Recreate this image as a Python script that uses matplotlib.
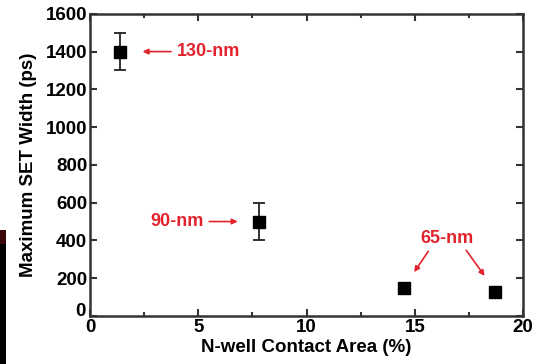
import matplotlib
matplotlib.use("Agg")
import matplotlib.pyplot as plt
from matplotlib import ticker
from matplotlib.patches import Rectangle

# data
area = [1.4, 7.8, 14.5, 18.7]
set_width = [1400, 500, 150, 125]
err = [100, 100, 0, 0]
nodes = ["130-nm", "90-nm", "65-nm", "65-nm"]

red = "#e3232c"
plt.rcParams['font.family'] = ['Liberation Sans', 'DejaVu Sans']
plt.rcParams['font.weight'] = 'bold'

fig = plt.figure(figsize=(5.42, 3.64), dpi=100)
ax = fig.add_axes([0.166, 0.132, 0.799, 0.83])

ax.errorbar(area, set_width, yerr=err, fmt='s', color='black', ms=8,
            ecolor='#222222', elinewidth=1.3, capsize=4, capthick=1.3)

ax.set_xlim(0, 20)
ax.set_ylim(0, 1600)
ax.xaxis.set_major_locator(ticker.MultipleLocator(5))
ax.xaxis.set_minor_locator(ticker.MultipleLocator(2.5))
ax.yaxis.set_major_locator(ticker.MultipleLocator(200))
# y zero label is drawn separately, a bit higher, so it clears the x zero
ax.yaxis.set_major_formatter(ticker.FuncFormatter(lambda v, p: "" if v == 0 else "%d" % v))
ax.tick_params(which='both', direction='in', top=True, right=True,
               color='#333333', labelsize=13.5, pad=2)
ax.tick_params(which='major', length=5, width=1.5)
ax.tick_params(which='minor', length=3, width=1.5)
for s in ax.spines.values():
    s.set_linewidth(1.8)
    s.set_color('#333333')
ax.annotate("0", xy=(0, 0), xycoords='axes fraction', xytext=(-3, 3.5),
            textcoords='offset points', ha='right', va='center', fontsize=13.5,
            fontweight='bold')

ax.set_xlabel("N-well Contact Area (%)", fontsize=13.5, fontweight='bold', labelpad=2)
ax.set_ylabel("Maximum SET Width (ps)", fontsize=13.5, fontweight='bold', labelpad=6)

akw = dict(arrowstyle='-|>', color=red, lw=1.2, mutation_scale=8)
ax.annotate(nodes[0], xy=(2.3, 1400), xytext=(4.0, 1400), color=red,
            fontsize=13, fontweight='bold', va='center', ha='left',
            arrowprops=akw)
ax.annotate(nodes[1], xy=(6.95, 500), xytext=(5.25, 500), color=red,
            fontsize=13, fontweight='bold', va='center', ha='right',
            arrowprops=akw)
ax.text(16.5, 410, nodes[2], color=red, fontsize=13, fontweight='bold',
        ha='center', va='center')
ax.annotate("", xy=(14.9, 220), xytext=(15.7, 355), arrowprops=akw)
ax.annotate("", xy=(18.3, 200), xytext=(17.3, 360), arrowprops=akw)

# dark strip at the lower left edge of the source image
fig.patches.append(Rectangle((0, 0), 6 / 542, 134 / 364, transform=fig.transFigure,
                             facecolor='black', edgecolor='none'))
fig.patches.append(Rectangle((0, 120 / 364), 6 / 542, 14 / 364, transform=fig.transFigure,
                             facecolor='#3a0808', edgecolor='none'))

plt.savefig("out.png", dpi=100)
